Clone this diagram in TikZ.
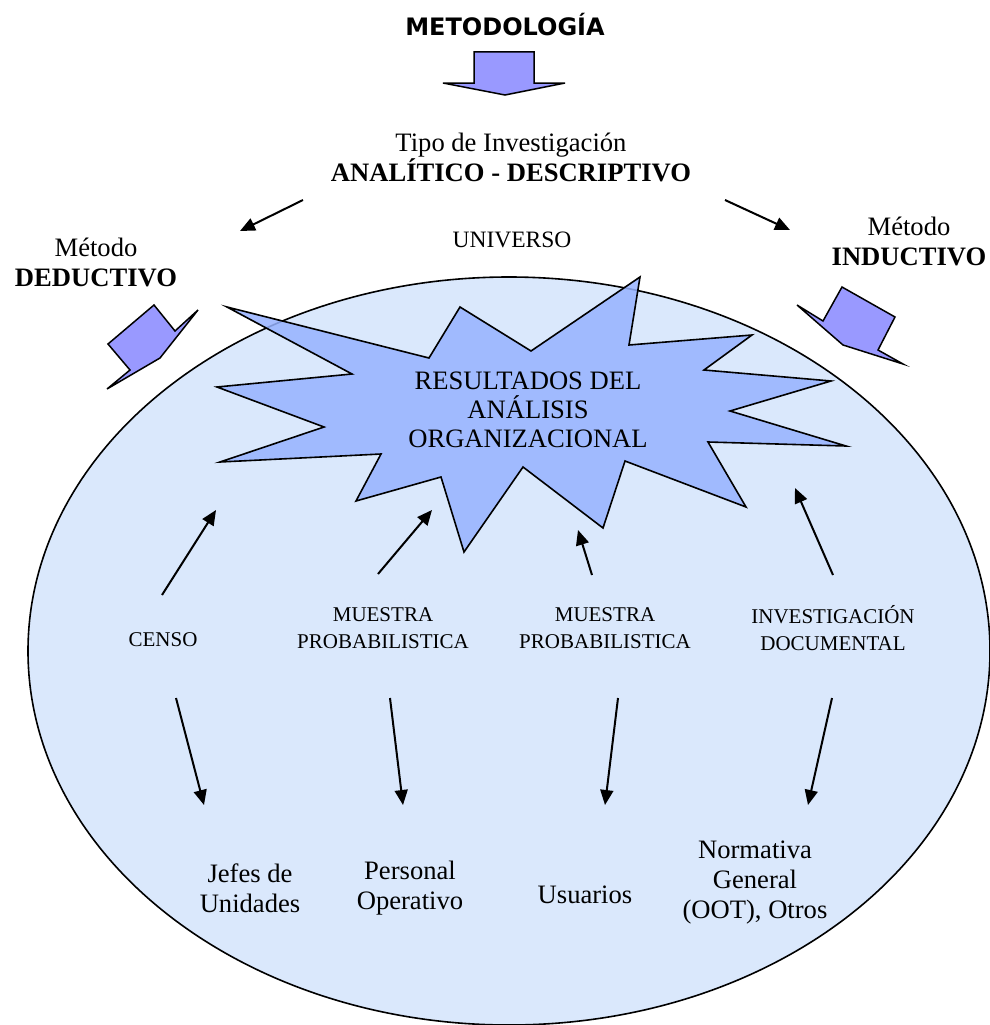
\documentclass[tikz,border=0pt]{standalone}
\usepackage{fontspec}
\setmainfont{Liberation Serif}
\newfontfamily\verd{DejaVu Sans}
\usetikzlibrary{arrows.meta}
\definecolor{ellfill}{RGB}{218,232,252}
\definecolor{starfill}{RGB}{150,178,255}
\definecolor{blockfill}{RGB}{153,153,255}
\begin{document}
\begin{tikzpicture}[x=1pt,y=-1pt,
  txt/.style={font=\fontsize{26.6}{30}\selectfont, align=center, inner sep=0pt},
  smalltxt/.style={font=\fontsize{21}{27}\selectfont, align=center, inner sep=0pt},
  arr/.style={line width=2pt, -{Triangle[length=15pt,width=13pt]}},
  blockarrow/.style={draw=black, line width=1.5pt, fill=blockfill, line join=miter},
  outline/.style={draw=black, line width=1.6pt}]
\useasboundingbox (0,0) rectangle (989,1025);

% title and top block arrow
\node[inner sep=0pt, font=\verd\bfseries\fontsize{24}{28}\selectfont] (title) at (505,25) {METODOLOGÍA};
\draw[blockarrow] (474,52) -- (534,52) -- (534,83) -- (565,83) -- (505,95) -- (443,83) -- (474,83) -- cycle;

\node[txt] (tipo) at (511,157) {Tipo de Investigación\\\textbf{ANALÍTICO - DESCRIPTIVO}};

% universe ellipse
\draw[outline, fill=ellfill] (509,651) ellipse [x radius=481, y radius=374];

% star
\draw[outline, fill=starfill, fill opacity=0.85] (227,307) -- (429,358) -- (460,307) -- (531,351) -- (640,277) -- (629,345) -- (752,335) -- (704,370) -- (831,381) -- (730,411) -- (846,446) -- (708,442) -- (746,507) -- (625,461) -- (603,528) -- (523,467) -- (464,552) -- (441,477) -- (356,501) -- (381,454) -- (220,462) -- (324,427) -- (217,387) -- (352,374) -- cycle;
\node[txt, font=\fontsize{26.6}{29}\selectfont] (res) at (528,410) {RESULTADOS DEL\\ANÁLISIS\\ORGANIZACIONAL};

\node[smalltxt, font=\fontsize{23.5}{27}\selectfont] (univ) at (512,240) {UNIVERSO};

% methods
\node[txt] (ded) at (96,262) {Método\\\textbf{DEDUCTIVO}};
\node[txt] (ind) at (909,241) {Método\\\textbf{INDUCTIVO}};
\draw[blockarrow] (154,305) -- (175,331) -- (198,310) -- (160,358) -- (107,389) -- (130,370) -- (108,344) -- cycle;
\draw[blockarrow] (842,287) -- (895,317) -- (878,350) -- (903,364) -- (843,345) -- (797,305) -- (823,321) -- cycle;

% top arrows
\coordinate (tla) at (303,200); \coordinate (tlb) at (240,231);
\coordinate (tra) at (725,200); \coordinate (trb) at (790,230);
\draw[arr] (tla) -- (tlb);
\draw[arr] (tra) -- (trb);

% sampling labels
\node[smalltxt] (censo) at (163,640) {CENSO};
\node[smalltxt] (m1) at (383,628) {MUESTRA\\PROBABILISTICA};
\node[smalltxt] (m2) at (605,628) {MUESTRA\\PROBABILISTICA};
\node[smalltxt] (inv) at (833,628) {INVESTIGACIÓN\\DOCUMENTAL};

% up arrows
\coordinate (u1a) at (162,595); \coordinate (u1b) at (216,510);
\coordinate (u2a) at (378,574); \coordinate (u2b) at (432,510);
\coordinate (u3a) at (592,575); \coordinate (u3b) at (578,530);
\coordinate (u4a) at (833,575); \coordinate (u4b) at (795,488);
\draw[arr] (u1a) -- (u1b);
\draw[arr] (u2a) -- (u2b);
\draw[arr] (u3a) -- (u3b);
\draw[arr] (u4a) -- (u4b);

% down arrows
\coordinate (d1a) at (176,698); \coordinate (d1b) at (204,805);
\coordinate (d2a) at (390,698); \coordinate (d2b) at (403,805);
\coordinate (d3a) at (618,698); \coordinate (d3b) at (605,805);
\coordinate (d4a) at (832,698); \coordinate (d4b) at (808,805);
\draw[arr] (d1a) -- (d1b);
\draw[arr] (d2a) -- (d2b);
\draw[arr] (d3a) -- (d3b);
\draw[arr] (d4a) -- (d4b);

% bottom labels
\node[txt] (jefes) at (250,888) {Jefes de\\Unidades};
\node[txt] (pers) at (410,888) {Personal\\Operativo};
\node[txt] (usu) at (585,895) {Usuarios};
\node[txt] (norm) at (755,883) {Normativa\\General\\(OOT), Otros};
\end{tikzpicture}
\end{document}
